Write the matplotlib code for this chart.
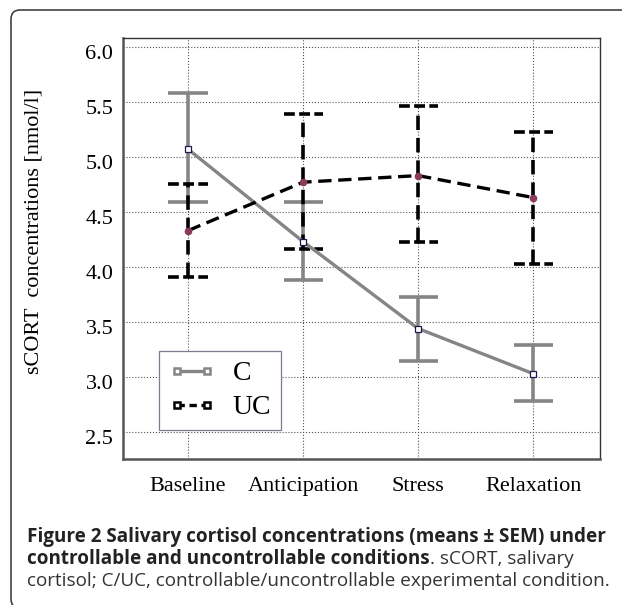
import matplotlib.pyplot as plt
from matplotlib.lines import Line2D
from matplotlib.patches import FancyBboxPatch
from matplotlib.transforms import ScaledTranslation

phases = ['Baseline', 'Anticipation', 'Stress', 'Relaxation']
c_mean = [5.07, 4.23, 3.44, 3.03]
c_high = [5.58, 4.59, 3.73, 3.29]
c_low = [4.59, 3.88, 3.145, 2.78]
uc_mean = [4.33, 4.77, 4.83, 4.63]
uc_high = [4.75, 5.39, 5.46, 5.23]
uc_low = [3.91, 4.16, 4.23, 4.03]
yticks = [2.5, 3.0, 3.5, 4.0, 4.5, 5.0, 5.5, 6.0]

grey = '#858585'
serif = 'Liberation Serif'

fig = plt.figure(figsize=(6.22, 6.05), dpi=100)
ax = fig.add_axes([123/622, 1 - 459/605, 477/622, 421/605])
x = list(range(1, len(phases) + 1))
cw = 0.17

# C: grey solid with error bars
ax.vlines(x, c_low, c_high, colors=grey, lw=2.6, zorder=3)
ax.hlines(c_high, [i - cw for i in x], [i + cw for i in x], colors=grey, lw=2.6, zorder=3)
ax.hlines(c_low, [i - cw for i in x], [i + cw for i in x], colors=grey, lw=2.6, zorder=3)
ax.plot(x, c_mean, color=grey, lw=2.4, marker='s', ms=5, mfc='white',
        mec='#1a1a50', mew=0.9, zorder=5)

# UC: black dashed with dashed error bars
ax.vlines(x, uc_low, uc_high, colors='black', lw=2.6, linestyles=(0, (4, 2.2)), zorder=3)
ax.hlines(uc_high, [i - cw for i in x], [i + cw for i in x], colors='black', lw=2.6,
          linestyles=(0, (3, 1.2)), zorder=3)
ax.hlines(uc_low, [i - cw for i in x], [i + cw for i in x], colors='black', lw=2.6,
          linestyles=(0, (3, 1.2)), zorder=3)
ax.plot(x, uc_mean, color='black', lw=2.4, ls=(0, (4, 2)), marker='o', ms=4.5,
        mfc='#8b3a5e', mec='#8b3a5e', zorder=5)

ax.set_xlim(0.435, 4.58)
ax.set_ylim(2.255, 6.08)
ax.set_xticks(x)
ax.set_xticklabels(phases, fontfamily=serif, fontsize=16)
ax.set_yticks(yticks)
ax.set_yticklabels(['%.1f' % v for v in yticks], fontfamily=serif, fontsize=16)
ax.tick_params(axis='y', length=0, pad=7)
ax.tick_params(axis='x', length=0, pad=13)
for lab in ax.get_yticklabels():
    lab.set_transform(lab.get_transform() + ScaledTranslation(0, -0.05, fig.dpi_scale_trans))
ax.set_ylabel('sCORT  concentrations [nmol/l]', fontfamily=serif, fontsize=16)
ax.yaxis.set_label_coords(-0.166, 0.54)
ax.grid(True, color='#555555', ls=':', lw=0.8)
for s in ['top', 'right']:
    ax.spines[s].set_color('#333333')
    ax.spines[s].set_linewidth(1.0)
for s in ['left', 'bottom']:
    ax.spines[s].set_color('#555555')
    ax.spines[s].set_linewidth(1.8)

handles = [
    Line2D([], [], color=grey, lw=2.4, marker='s', ms=5, mfc='white', mec=grey, mew=1.8),
    Line2D([], [], color='black', lw=2.4, ls=(0, (2.2, 1.4)), marker='s', ms=5,
           mfc='white', mec='black', mew=1.8),
]
leg = ax.legend(handles, ['C', 'UC'], loc='lower left', bbox_to_anchor=(0.075, 0.069),
                prop={'family': serif, 'size': 20}, fancybox=False, framealpha=1,
                edgecolor='#7a7a90', handlelength=1.7, borderpad=0.35, labelspacing=0.3,
                handletextpad=0.6, numpoints=2, borderaxespad=0)
leg.get_frame().set_linewidth(0.9)

# caption
cap = 'Open Sans'
fs = 13.6
fig.text(27/622, 1 - 537/605, 'Figure 2 Salivary cortisol concentrations (means \u00b1 SEM) under',
         fontfamily=cap, fontweight='bold', fontsize=fs, color='#222222', va='center')
t2 = fig.text(27/622, 1 - 559/605, 'controllable and uncontrollable conditions',
              fontfamily=cap, fontweight='bold', fontsize=fs, color='#222222', va='center')
fig.canvas.draw()
bb = t2.get_window_extent()
fig.text(bb.x1 / 622, 1 - 559/605, '. sCORT, salivary', fontfamily=cap, fontsize=fs,
         color='#333333', va='center')
fig.text(27/622, 1 - 581/605, 'cortisol; C/UC, controllable/uncontrollable experimental condition.',
         fontfamily=cap, fontsize=fs, color='#333333', va='center')

# rounded frame, cut off at right and bottom
fig.patches.append(FancyBboxPatch((0.11, -0.03), 6.4, 5.98,
                                  boxstyle='round,pad=0,rounding_size=0.09',
                                  transform=fig.dpi_scale_trans, fill=False,
                                  edgecolor='#333333', lw=1.1))

fig.savefig('out.png', dpi=100)
